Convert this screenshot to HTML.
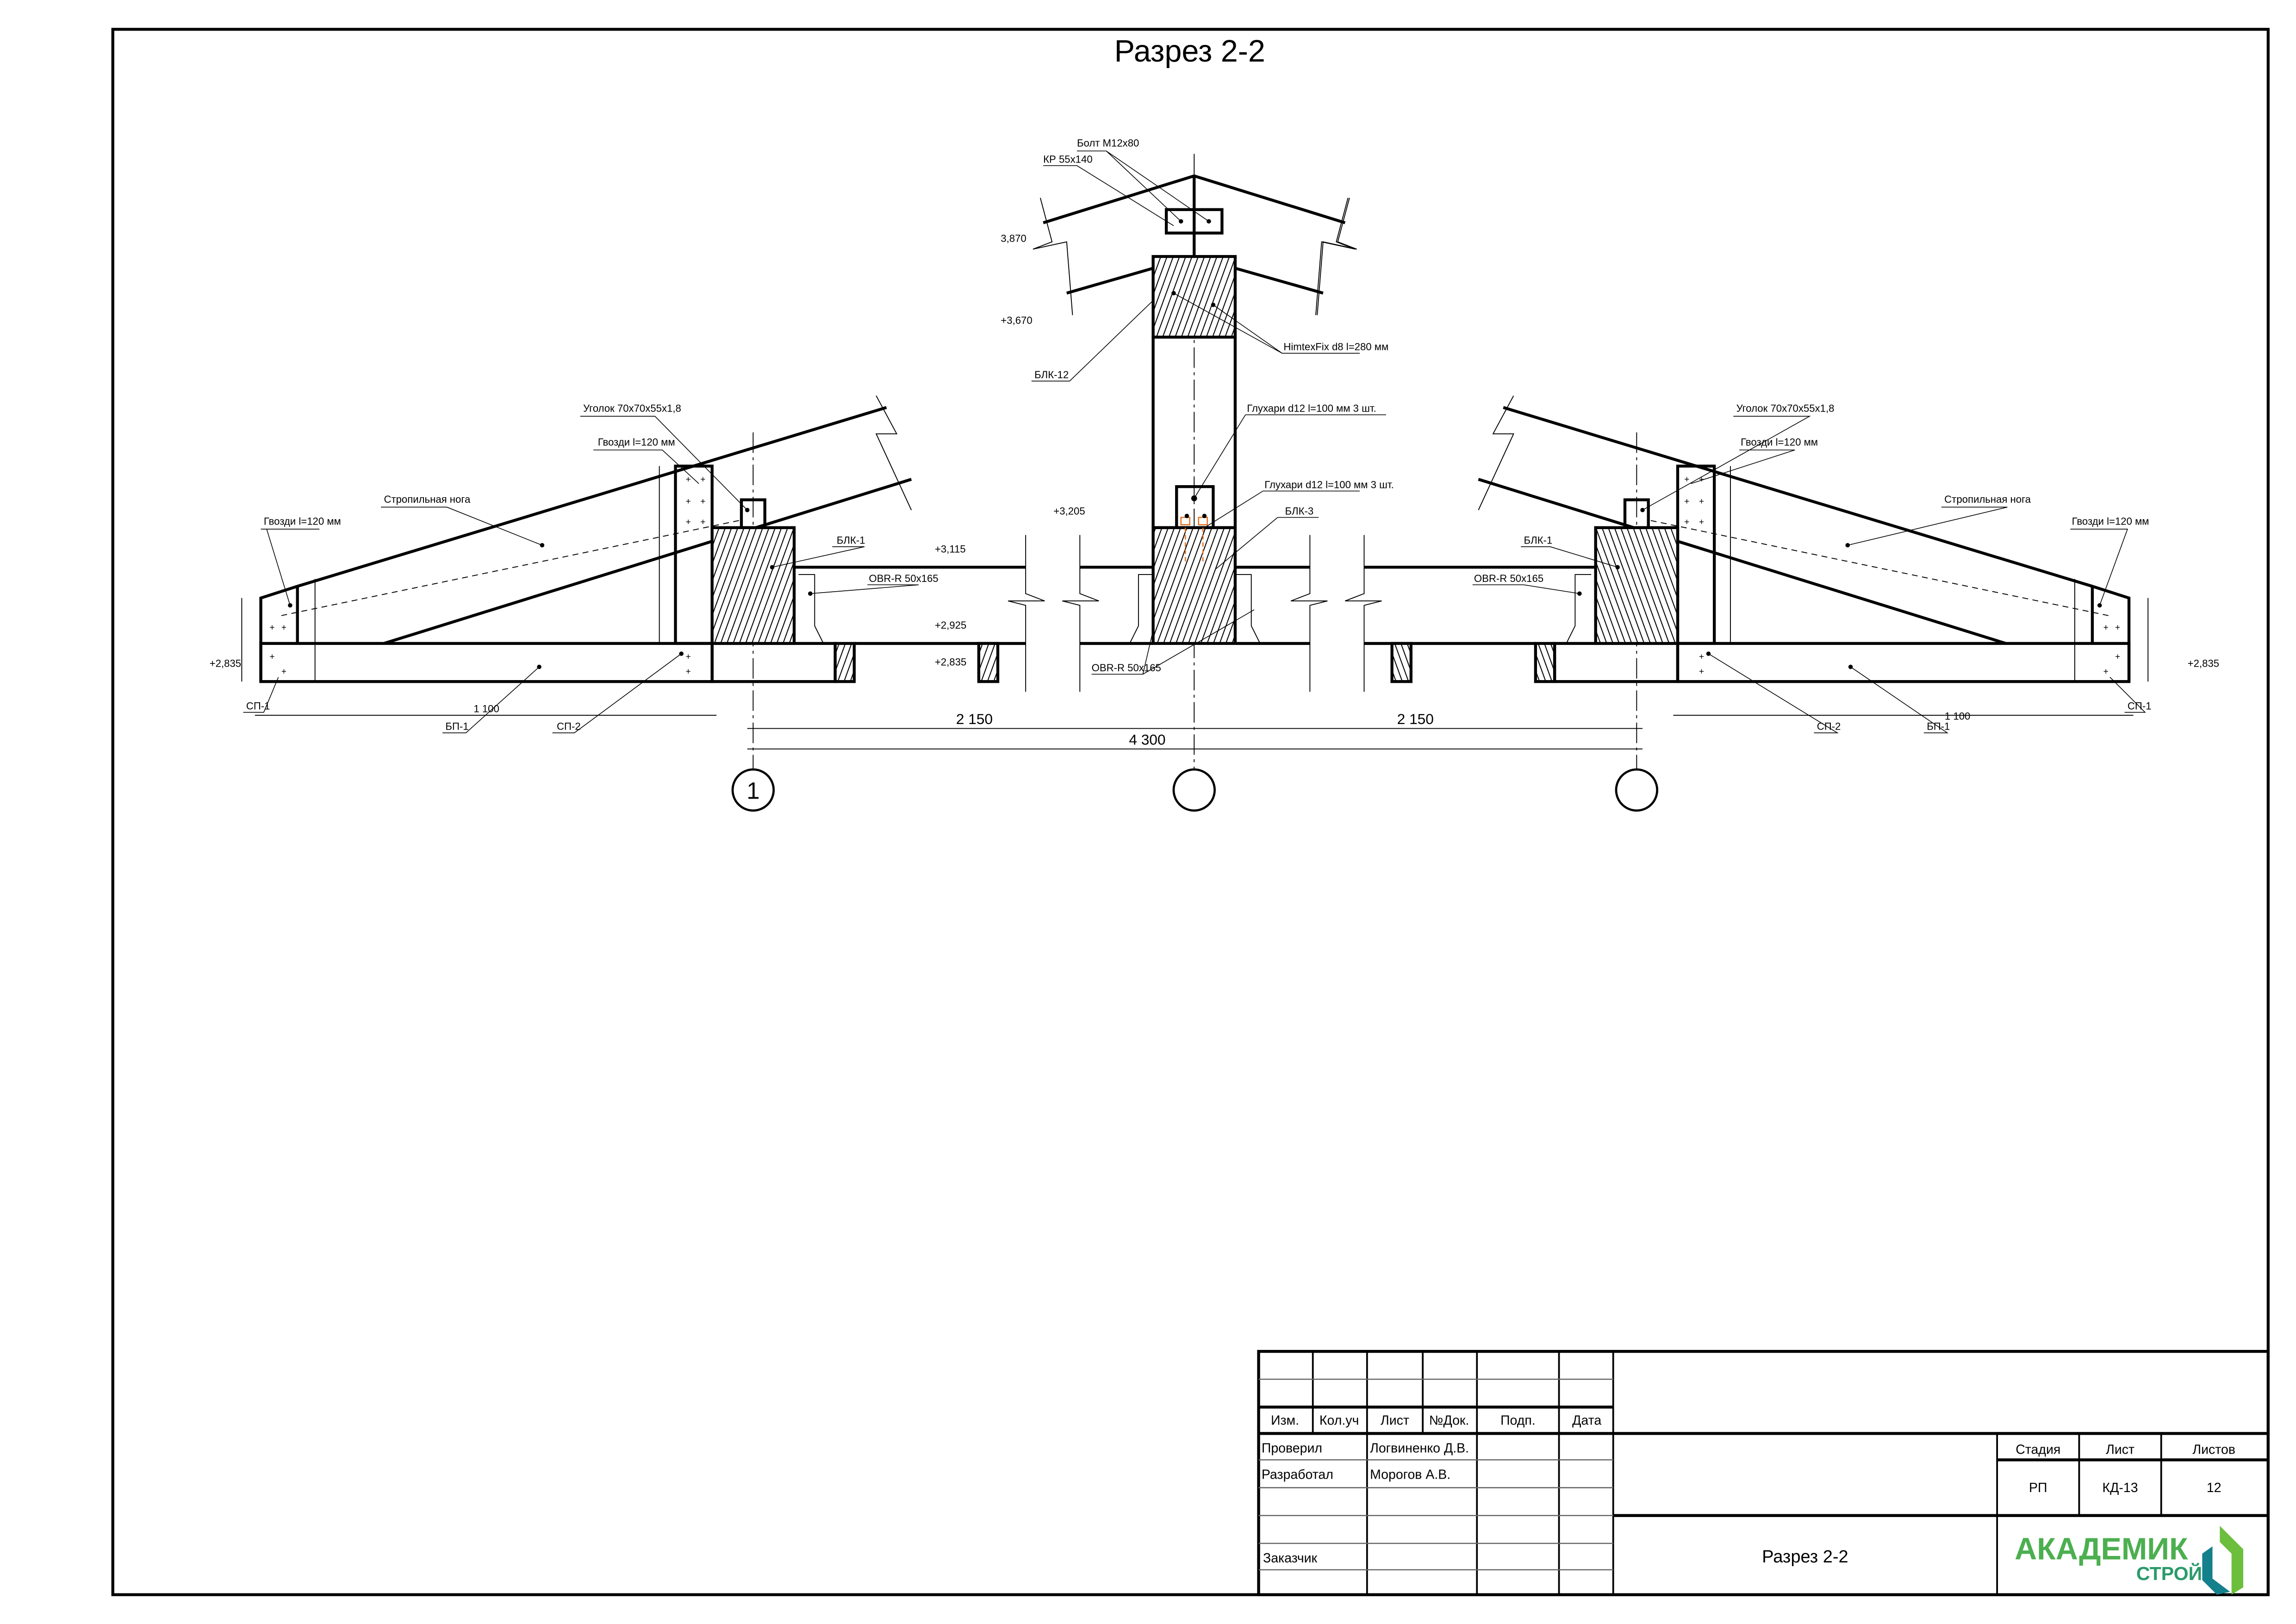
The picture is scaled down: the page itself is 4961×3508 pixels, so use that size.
<!DOCTYPE html>
<html><head><meta charset="utf-8"><style>
html,body{margin:0;padding:0;background:#fff}
svg{display:block}
text{font-family:"Liberation Sans Narrow","Liberation Sans","DejaVu Sans",sans-serif;fill:#000}
</style></head><body>
<svg width="4961" height="3508" viewBox="0 0 1567 1108" preserveAspectRatio="none" xmlns="http://www.w3.org/2000/svg">
<defs>
<pattern id="h" width="4" height="4" patternUnits="userSpaceOnUse" patternTransform="rotate(20)">
<rect width="4" height="4" fill="#fff"/><line x1="0" y1="0" x2="0" y2="4" stroke="#000" stroke-width="1.3"/>
</pattern>
</defs>
<rect x="77" y="20" width="1471" height="1068" fill="none" stroke="#000" stroke-width="2"/>
<text x="812" y="42" font-size="21" text-anchor="middle">Разрез 2-2</text>

<g stroke="#000" stroke-width="0.6" stroke-dasharray="14,3,2,3">
<line x1="514" y1="295" x2="514" y2="525"/>
<line x1="815" y1="105" x2="815" y2="525"/>
<line x1="1117" y1="295" x2="1117" y2="525"/>
</g>
<g fill="none" stroke="#000" stroke-width="1.5">
<circle cx="514" cy="539" r="14"/><circle cx="815" cy="539" r="14"/><circle cx="1117" cy="539" r="14"/>
</g>
<text x="514" y="545" font-size="16" text-anchor="middle">1</text>

<g stroke="#000" stroke-width="0.6">
<line x1="510" y1="497" x2="1121" y2="497"/>
<line x1="510" y1="511" x2="1121" y2="511"/>
<line x1="174" y1="488" x2="489" y2="488"/>
<line x1="1142" y1="488" x2="1456" y2="488"/>
</g>
<g font-size="10" text-anchor="middle">
<text x="665" y="494">2 150</text><text x="966" y="494">2 150</text><text x="783" y="508">4 300</text>
<text x="332" y="486" font-size="7">1 100</text><text x="1336" y="491" font-size="7">1 100</text>
</g>

<g id="half">
<g fill="none" stroke="#000" stroke-width="2">
<rect x="178" y="439" width="308" height="26"/>
<rect x="486" y="439" width="84" height="26"/>
<rect x="461" y="318" width="25" height="121"/>
<path d="M178 465 V408 L203 400 V439 M203 400 L605 278 M262 439 L622 327"/>
<rect x="506" y="341" width="16" height="19"/>
<line x1="542" y1="387" x2="700" y2="387"/>
<line x1="583" y1="439" x2="700" y2="439"/>
<line x1="737" y1="387" x2="787" y2="387"/>
<line x1="737" y1="439" x2="787" y2="439"/>
</g>
<rect x="486" y="360" width="56" height="79" fill="url(#h)" stroke="#000" stroke-width="2"/>
<rect x="570" y="439" width="13" height="26" fill="url(#h)" stroke="#000" stroke-width="2"/>
<rect x="668" y="439" width="13" height="26" fill="url(#h)" stroke="#000" stroke-width="2"/>
<g fill="none" stroke="#000" stroke-width="0.6">
<path d="M700 365 V405 L713 410 H688 L700 413 V472"/>
<path d="M737 365 V405 L750 410 H725 L737 413 V472"/>
<path d="M598 270 L612 296 L598 296 L622 348"/>
<path d="M710 135 L718 165 L705 170 L728 165 L732 215"/>
<path d="M545 392 H556 V427 L562 439"/>
<path d="M787 392 H777 V427 L771 439"/>
<line x1="192" y1="420" x2="505" y2="355" stroke-dasharray="4,3"/>
<line x1="165" y1="408" x2="165" y2="465"/><line x1="215" y1="395" x2="215" y2="465"/>
<line x1="450" y1="318" x2="450" y2="439"/>
</g>
<g font-size="6" fill="#000">
<text x="468" y="329">+</text><text x="478" y="329">+</text><text x="468" y="344">+</text><text x="478" y="344">+</text><text x="468" y="358">+</text><text x="478" y="358">+</text>
<text x="468" y="450">+</text><text x="468" y="460">+</text><text x="184" y="430">+</text><text x="192" y="430">+</text><text x="184" y="450">+</text><text x="192" y="460">+</text>
</g>
<g fill="#000"><circle cx="370" cy="372" r="1.5"/><circle cx="527" cy="387" r="1.5"/><circle cx="553" cy="405" r="1.5"/><circle cx="510" cy="348" r="1.5"/><circle cx="465" cy="446" r="1.5"/><circle cx="368" cy="455" r="1.5"/><circle cx="198" cy="413" r="1.5"/></g>
</g>
<use href="#half" transform="translate(1631,0) scale(-1,1)"/>

<g fill="none" stroke="#000" stroke-width="2">
<rect x="787" y="230" width="56" height="130"/>
<path d="M712 152 L815 120 L918 152 M728 200 L787 183 M843 183 L903 200 M815 120 V175"/>
<rect x="796" y="143" width="38" height="16"/>
<rect x="803" y="332" width="25" height="28"/>
</g>
<rect x="787" y="175" width="56" height="55" fill="url(#h)" stroke="#000" stroke-width="2"/>
<rect x="787" y="360" width="56" height="79" fill="url(#h)" stroke="#000" stroke-width="2"/>
<g fill="none" stroke="#000" stroke-width="0.6">
<path d="M920 135 L912 165 L925 170 L902 165 L898 215"/>
</g>
<g stroke="#e07020" stroke-width="0.8" fill="none"><rect x="806" y="353" width="6" height="5"/><rect x="818" y="353" width="6" height="5"/><line x1="809" y1="360" x2="809" y2="385" stroke-dasharray="3,2"/><line x1="821" y1="360" x2="821" y2="385" stroke-dasharray="3,2"/></g>
<g fill="#000"><circle cx="815" cy="340" r="2"/><circle cx="810" cy="352" r="1.5"/><circle cx="822" cy="352" r="1.5"/><circle cx="806" cy="151" r="1.5"/><circle cx="825" cy="151" r="1.5"/><circle cx="801" cy="200" r="1.5"/><circle cx="828" cy="208" r="1.5"/></g>

<g fill="none" stroke="#000" stroke-width="0.5">
<path d="M735 103 H755 L806 151 M755 103 L825 151 M712 113 H735 L801 154"/>
<path d="M875 241 H928 M875 241 L801 200 M875 241 L828 208"/>
<path d="M704 260 H730 L787 205"/>
<path d="M850 283 H946 M850 283 L815 340"/>
<path d="M862 335 H928 M862 335 L822 360"/>
<path d="M872 353 H900 M872 353 L830 388"/>
<path d="M745 460 H780 L787 430 M780 460 L856 416"/>
<path d="M396 284 H447 L510 348"/>
<path d="M405 307 H452 L477 330"/>
<path d="M260 346 H305 L370 372"/>
<path d="M178 361 H218 M182 361 L198 413"/>
<path d="M568 373 H590 L527 387"/>
<path d="M592 399 H627 L553 405"/>
<path d="M377 500 H392 L465 446"/>
<path d="M302 500 H318 L368 455"/>
<path d="M166 486 H180 L190 462"/>
<path d="M1038 373 H1058 L1104 387"/>
<path d="M1005 399 H1040 L1078 405"/>
<path d="M1183 284 H1235 L1121 348"/>
<path d="M1187 307 H1225 L1154 330"/>
<path d="M1325 346 H1370 L1261 372"/>
<path d="M1413 361 H1452 L1433 413"/>
<path d="M1238 500 H1254 L1166 446"/>
<path d="M1313 500 H1329 L1263 455"/>
<path d="M1450 486 H1464 L1440 462"/>
</g>
<g font-size="7">
<text x="735" y="100">Болт М12х80</text>
<text x="712" y="111">КР 55х140</text>
<text x="876" y="239">HimtexFix d8 l=280 мм</text>
<text x="706" y="258">БЛК-12</text>
<text x="851" y="281">Глухари d12 l=100 мм 3 шт.</text>
<text x="863" y="333">Глухари d12 l=100 мм 3 шт.</text>
<text x="877" y="351">БЛК-3</text>
<text x="745" y="458">OBR-R 50х165</text>
<text x="398" y="281">Уголок 70х70х55х1,8</text>
<text x="408" y="304">Гвозди l=120 мм</text>
<text x="262" y="343">Стропильная нога</text>
<text x="180" y="358">Гвозди l=120 мм</text>
<text x="571" y="371">БЛК-1</text>
<text x="593" y="397">OBR-R 50х165</text>
<text x="380" y="498">СП-2</text><text x="304" y="498">БП-1</text><text x="168" y="484">СП-1</text>
<text x="1040" y="371">БЛК-1</text><text x="1006" y="397">OBR-R 50х165</text>
<text x="1185" y="281">Уголок 70х70х55х1,8</text><text x="1188" y="304">Гвозди l=120 мм</text>
<text x="1327" y="343">Стропильная нога</text><text x="1414" y="358">Гвозди l=120 мм</text>
<text x="1240" y="498">СП-2</text><text x="1315" y="498">БП-1</text><text x="1452" y="484">СП-1</text>
<text x="683" y="165">3,870</text><text x="683" y="221">+3,670</text><text x="719" y="351">+3,205</text>
<text x="638" y="377">+3,115</text><text x="638" y="429">+2,925</text><text x="638" y="454">+2,835</text>
<text x="143" y="455">+2,835</text><text x="1493" y="455">+2,835</text>
</g>

<g fill="none" stroke="#000">
<rect x="859" y="922" width="689" height="166" stroke-width="2"/>
<g stroke-width="1.2">
<line x1="896" y1="922" x2="896" y2="978"/><line x1="971" y1="922" x2="971" y2="978"/>
<line x1="933" y1="922" x2="933" y2="1088"/><line x1="1008" y1="922" x2="1008" y2="1088"/>
<line x1="1064" y1="922" x2="1064" y2="1088"/><line x1="1101" y1="922" x2="1101" y2="1088"/>
<line x1="1363" y1="978" x2="1363" y2="1088"/><line x1="1419" y1="978" x2="1419" y2="1034"/><line x1="1475" y1="978" x2="1475" y2="1034"/>
</g>
<g stroke-width="2"><line x1="859" y1="960" x2="1101" y2="960"/><line x1="859" y1="978" x2="1548" y2="978"/><line x1="1363" y1="996" x2="1548" y2="996"/><line x1="1101" y1="1034" x2="1548" y2="1034"/></g>
<g stroke="#666" stroke-width="0.8"><line x1="859" y1="941" x2="1101" y2="941"/><line x1="859" y1="996" x2="1101" y2="996"/><line x1="859" y1="1015" x2="1101" y2="1015"/><line x1="859" y1="1034" x2="1101" y2="1034"/><line x1="859" y1="1053" x2="1101" y2="1053"/><line x1="859" y1="1071" x2="1101" y2="1071"/></g>
</g>
<g font-size="9">
<text x="877" y="972" text-anchor="middle">Изм.</text><text x="914" y="972" text-anchor="middle">Кол.уч</text>
<text x="952" y="972" text-anchor="middle">Лист</text><text x="989" y="972" text-anchor="middle">№Док.</text>
<text x="1036" y="972" text-anchor="middle">Подп.</text><text x="1083" y="972" text-anchor="middle">Дата</text>
<text x="861" y="991">Проверил</text><text x="935" y="991">Логвиненко Д.В.</text>
<text x="861" y="1009">Разработал</text><text x="935" y="1009">Морогов А.В.</text>
<text x="862" y="1066">Заказчик</text>
<text x="1232" y="1066" font-size="12" text-anchor="middle">Разрез 2-2</text>
<text x="1391" y="992" text-anchor="middle">Стадия</text><text x="1447" y="992" text-anchor="middle">Лист</text><text x="1511" y="992" text-anchor="middle">Листов</text>
<text x="1391" y="1018" text-anchor="middle">РП</text><text x="1447" y="1018" text-anchor="middle">КД-13</text><text x="1511" y="1018" text-anchor="middle">12</text>
</g>
<text x="1375" y="1064" font-size="21" font-weight="bold" style="fill:#4caf50">АКАДЕМИК</text>
<text x="1458" y="1078" font-size="13" font-weight="bold" style="fill:#2a9a6a">СТРОЙ</text>
<path d="M1515 1041 L1531 1057 V1083 L1523 1088 V1060 L1515 1052Z" fill="#6cbf3c"/>
<path d="M1503 1060 L1510 1055 V1077 L1522 1086 L1513 1088 L1503 1078Z" fill="#14808c"/>
</svg>
</body></html>
